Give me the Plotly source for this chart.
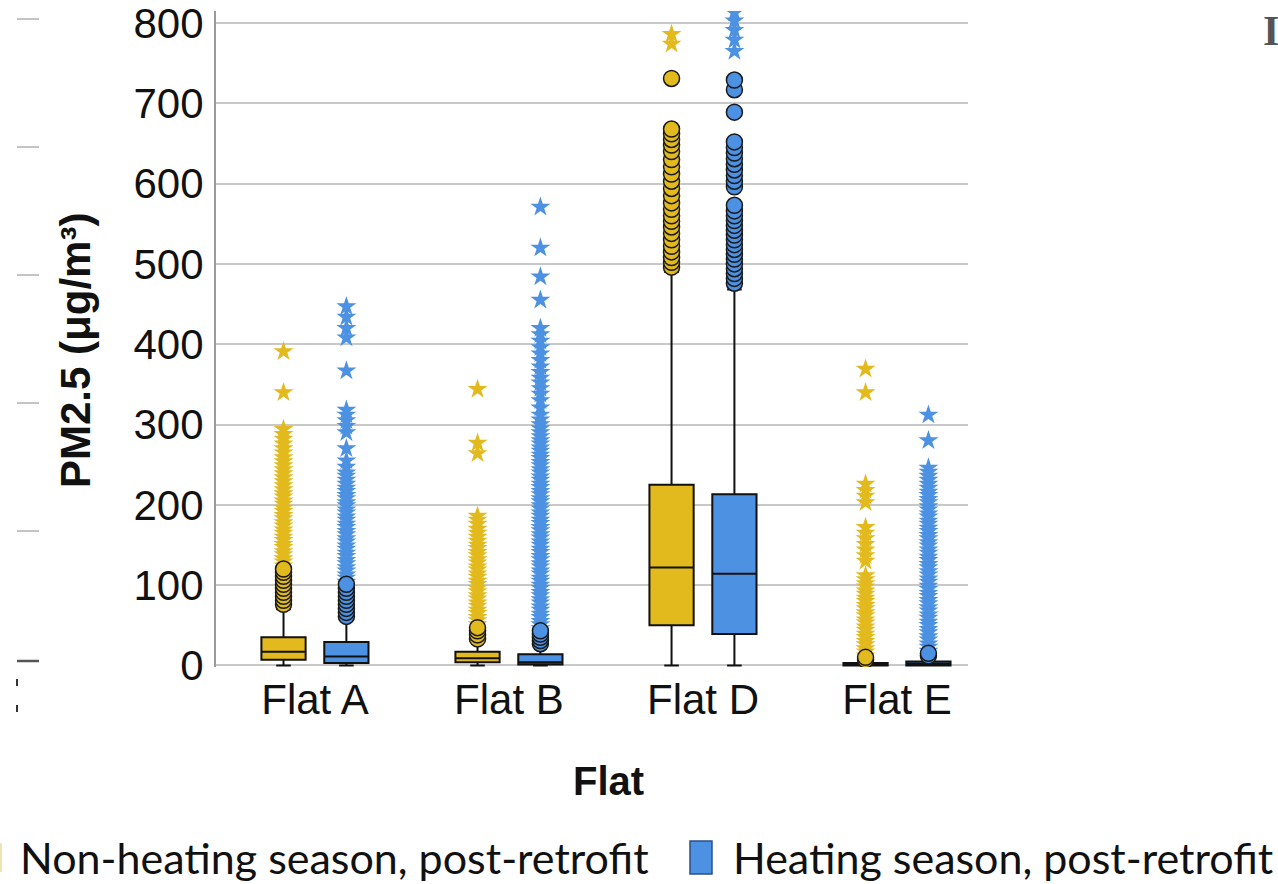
import plotly.graph_objects as go

# ---------------- data ----------------
categories = ["Flat A", "Flat B", "Flat D", "Flat E"]
series_names = ["Non-heating season, post-retrofit", "Heating season, post-retrofit"]
y_ticks = [0, 100, 200, 300, 400, 500, 600, 700, 800]

# box statistics per flat (A, B, D, E)
nonheat_q1 = [7, 4, 50, 0]
nonheat_median = [17, 9, 122, 1]
nonheat_q3 = [35, 17, 225, 3]
nonheat_lower = [0, 0, 0, 0]
nonheat_upper = [70, 30, 490, 6]

heat_q1 = [3, 1, 39, 0]
heat_median = [11, 4, 114, 2]
heat_q3 = [29, 14, 213, 5]
heat_lower = [0, 0, 0, 0]
heat_upper = [57, 24, 468, 10]

# outliers (circles) and extreme values (stars)
nonheat_A_circles = [76, 81, 86, 91, 96, 101, 106, 111, 116, 120]
nonheat_B_circles = [33, 38, 43, 47]
nonheat_D_circles = [496, 502, 508, 515, 522, 530, 538, 546, 553, 560, 568, 576, 585, 594,
                     603, 612, 621, 630, 640, 648, 655, 662, 668, 731]
nonheat_E_circles = [7, 10]

heat_A_circles = [61, 66, 71, 76, 81, 86, 91, 96, 101]
heat_B_circles = [27, 31, 35, 39, 43]
heat_D_circles = [476, 482, 488, 494, 500, 506, 512, 518, 524, 530, 536, 542, 548, 554, 560,
                  566, 573, 596, 603, 610, 617, 624, 631, 638, 645, 652, 689, 717, 729]
heat_E_circles = [12, 15]

nonheat_A_stars = [124, 129, 133, 138, 142, 147, 151, 156, 160, 165, 169, 174, 178, 183, 187,
                   192, 196, 201, 205, 210, 214, 219, 224, 229, 234, 239, 244, 249, 254, 259,
                   265, 270, 276, 282, 288, 294, 340, 391]
nonheat_B_stars = [51, 56, 60, 65, 69, 74, 78, 83, 87, 92, 96, 101, 105, 110, 114, 119, 123,
                   128, 132, 137, 141, 146, 150, 155, 160, 165, 170, 176, 181, 186, 264, 277, 344]
nonheat_D_stars = [774, 786]
nonheat_E_stars = [12, 17, 21, 26, 30, 35, 39, 44, 48, 53, 57, 62, 66, 71, 75, 80, 84, 89, 93,
                   98, 102, 107, 112, 130, 137, 144, 151, 158, 165, 172, 203, 211, 218, 226,
                   340, 369]

heat_A_stars = [104, 109, 113, 118, 122, 127, 131, 136, 140, 145, 149, 154, 158, 163, 167, 172,
                176, 181, 185, 190, 194, 199, 203, 208, 212, 217, 221, 226, 231, 236, 240, 247,
                255, 270, 290, 298, 305, 312, 318, 367, 408, 420, 434, 447]
heat_B_stars = [46, 51, 55, 60, 64, 69, 73, 78, 82, 87, 91, 96, 100, 105, 109, 114, 118, 123,
                127, 132, 136, 141, 145, 150, 154, 159, 163, 168, 172, 177, 181, 186, 190, 195,
                199, 204, 208, 213, 217, 222, 226, 231, 235, 240, 244, 249, 253, 258, 262, 267,
                271, 276, 280, 285, 290, 295, 300, 306, 312, 321, 330, 338, 345, 352, 358, 365,
                372, 380, 388, 396, 404, 412, 420, 455, 484, 520, 571]
heat_D_stars = [765, 779, 791, 803, 813]
heat_E_stars = [18, 23, 27, 32, 36, 41, 45, 50, 54, 59, 63, 68, 72, 77, 81, 86, 90, 95, 99, 104,
                108, 113, 117, 122, 126, 131, 135, 140, 144, 149, 153, 158, 162, 167, 171, 176,
                180, 185, 189, 194, 198, 203, 207, 212, 216, 221, 226, 231, 236, 241, 246, 280,
                312]

# ---------------- style ----------------
YELLOW = "#E3BA1E"
BLUE = "#4C91E2"
W, H = 1278, 884
L_M, R_M, T_M, B_M = 216, 310, 11, 217
OFFSET = 0.162
BOX_W = 0.228

def px_x(x):
    return (x - L_M) / (W - L_M - R_M)

def px_y(y):
    return (H - B_M - y) / (H - T_M - B_M)

fig = go.Figure()

groups = [
    (series_names[0], YELLOW, -OFFSET, nonheat_q1, nonheat_median, nonheat_q3, nonheat_lower, nonheat_upper,
     [nonheat_A_circles, nonheat_B_circles, nonheat_D_circles, nonheat_E_circles],
     [nonheat_A_stars, nonheat_B_stars, nonheat_D_stars, nonheat_E_stars]),
    (series_names[1], BLUE, OFFSET, heat_q1, heat_median, heat_q3, heat_lower, heat_upper,
     [heat_A_circles, heat_B_circles, heat_D_circles, heat_E_circles],
     [heat_A_stars, heat_B_stars, heat_D_stars, heat_E_stars]),
]

for name, color, off, q1, med, q3, lo, up, circles, stars in groups:
    xpos = [i + off for i in range(len(categories))]
    fig.add_trace(go.Box(
        name=name, x=xpos, q1=q1, median=med, q3=q3, lowerfence=lo, upperfence=up,
        width=BOX_W, whiskerwidth=0.33, fillcolor=color,
        line=dict(color="#111111", width=2), boxpoints=False, showlegend=False,
    ))
    sx, sy, cx, cy = [], [], [], []
    for i in range(len(categories)):
        sx += [i + off] * len(stars[i]); sy += stars[i]
        cx += [i + off] * len(circles[i]); cy += circles[i]
    fig.add_trace(go.Scatter(
        x=sx, y=sy, mode="markers", showlegend=False,
        marker=dict(symbol="star", size=15, color=color, line=dict(width=0)),
    ))
    fig.add_trace(go.Scatter(
        x=cx, y=cy, mode="markers", showlegend=False,
        marker=dict(symbol="circle", size=16, color=color, line=dict(color="#1a1a1a", width=1.5)),
    ))

AX_FONT = "Liberation Sans, Arial, sans-serif"

fig.update_layout(
    width=W, height=H,
    margin=dict(l=L_M, r=R_M, t=T_M, b=B_M),
    paper_bgcolor="white", plot_bgcolor="white",
    showlegend=False,
    xaxis=dict(
        range=[-0.51, 3.366], tickvals=list(range(len(categories))), ticktext=categories,
        showgrid=False, zeroline=False, showline=False, ticks="", automargin=False,
        tickfont=dict(family=AX_FONT, size=42, color="#111111"),
        ticklabelstandoff=4, ticklabeloverflow="allow",
    ),
    yaxis=dict(
        range=[-2, 815], tickvals=y_ticks, ticktext=[str(v) for v in y_ticks],
        showgrid=True, gridcolor="#c8c8c8", gridwidth=2, zeroline=False,
        showline=True, linecolor="#9a9a9a", linewidth=2, ticks="", automargin=False,
        tickfont=dict(family=AX_FONT, size=42, color="#111111"),
        ticklabelstandoff=2, ticklabeloverflow="allow",
    ),
)

annotations = [
    dict(text="<b>PM2.5 (μg/m³)</b>", x=px_x(75), y=px_y(351), textangle=-90,
         font=dict(family=AX_FONT, size=42, color="#111111")),
    dict(text="<b>Flat</b>", x=px_x(608), y=px_y(781),
         font=dict(family=AX_FONT, size=40, color="#111111")),
    dict(text=series_names[0], x=px_x(18), y=px_y(857), xanchor="left",
         font=dict(family="Lato, sans-serif", size=43, color="#111111")),
    dict(text=series_names[1], x=px_x(731), y=px_y(857), xanchor="left",
         font=dict(family="Lato, sans-serif", size=43, color="#111111")),
    dict(text="<b>I</b>", x=px_x(1261), y=px_y(31), xanchor="left",
         font=dict(family="Liberation Serif, serif", size=42, color="#555555")),
]
for a in annotations:
    a.update(xref="paper", yref="paper", showarrow=False)
    if "xanchor" not in a:
        a["xanchor"] = "center"
    a["yanchor"] = "middle"
fig.update_layout(annotations=annotations)

shapes = [
    dict(type="rect", x0=px_x(690), x1=px_x(712), y0=px_y(841), y1=px_y(874),
         fillcolor=BLUE, line=dict(color="#2b4f86", width=1.5)),
    dict(type="rect", x0=px_x(-20), x1=px_x(2), y0=px_y(843), y1=px_y(872),
         fillcolor="#efe3b0", line=dict(width=0)),
]
for yy in [19, 147, 275, 403, 531]:
    shapes.append(dict(type="line", x0=px_x(17), x1=px_x(39), y0=px_y(yy), y1=px_y(yy),
                       line=dict(color="#c4c4c4", width=2)))
shapes.append(dict(type="line", x0=px_x(17), x1=px_x(39), y0=px_y(661), y1=px_y(661),
                   line=dict(color="#555555", width=2.5)))
for y0, y1 in [(679, 686), (705, 712)]:
    shapes.append(dict(type="line", x0=px_x(17), x1=px_x(17), y0=px_y(y0), y1=px_y(y1),
                       line=dict(color="#333333", width=2)))
for s in shapes:
    s.update(xref="paper", yref="paper")
fig.update_layout(shapes=shapes)

fig.write_html("out.html")
